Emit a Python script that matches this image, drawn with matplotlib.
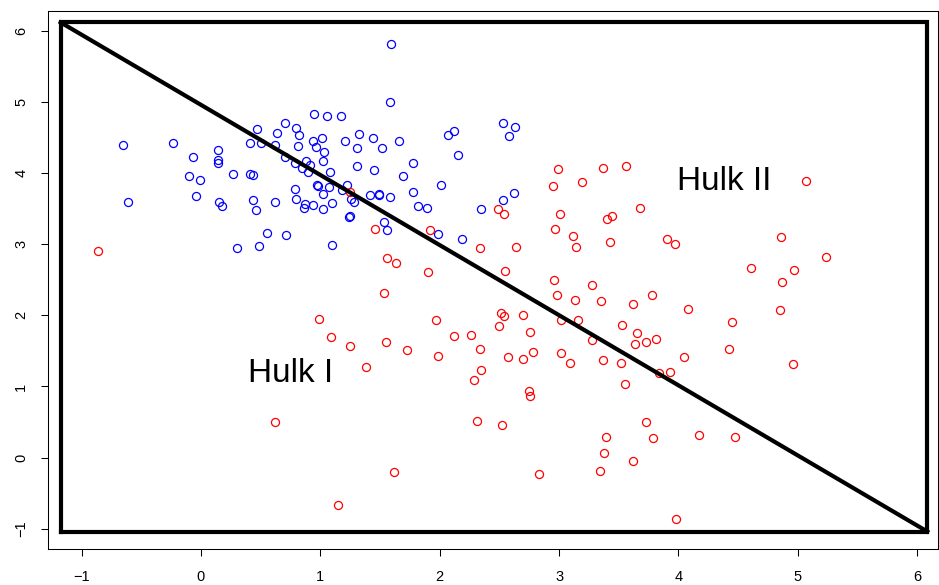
#import python modules
import matplotlib
matplotlib.use('Agg')
import matplotlib.pyplot as plt
import numpy as np

#Hulk I - blue points
blue_x = [-0.65, -0.23, -0.61, -0.07, -0.10, -0.01, -0.04, 0.14, 0.14, 0.14,
          0.15, 0.18, 0.27, 0.41, 0.44, 0.30, 0.49, 0.44, 0.46, 0.55,
          0.62, 0.71, 0.41, 0.47, 0.50, 0.62, 0.64, 0.70, 0.70, 0.80,
          0.82, 0.81, 0.95, 1.06, 1.17, 0.94, 1.01, 0.96, 1.03, 1.02,
          0.79, 0.85, 0.88, 0.91, 0.90, 1.08, 0.79, 0.80, 0.87, 0.86,
          0.94, 1.02, 1.10, 0.97, 0.98, 1.02, 1.07, 1.10, 1.21, 1.22,
          1.18, 1.26, 1.28, 1.25, 1.24, 1.32, 1.31, 1.31, 1.58, 1.59,
          1.44, 1.52, 1.66, 1.45, 1.78, 1.69, 1.42, 1.49, 1.49, 1.58,
          1.53, 1.56, 1.78, 1.82, 1.89, 1.99, 2.19, 2.01, 2.15, 2.07,
          2.12, 2.53, 2.63, 2.58, 2.62, 2.53, 2.35]
blue_y = [4.40, 4.43, 3.60, 4.23, 3.96, 3.90, 3.68, 4.33, 4.19, 4.15,
          3.59, 3.54, 3.99, 3.99, 3.98, 2.95, 2.98, 3.62, 3.48, 3.16,
          3.59, 3.13, 4.42, 4.62, 4.42, 4.39, 4.56, 4.70, 4.23, 4.63,
          4.54, 4.38, 4.83, 4.81, 4.81, 4.45, 4.50, 4.37, 4.30, 4.17,
          4.15, 4.07, 4.17, 4.12, 4.02, 4.01, 3.78, 3.64, 3.57, 3.51,
          3.55, 3.50, 3.58, 3.84, 3.82, 3.71, 3.80, 2.99, 4.45, 3.83,
          3.76, 3.63, 3.60, 3.40, 3.39, 4.55, 4.36, 4.10, 5.00, 5.81,
          4.49, 4.36, 4.45, 4.04, 4.15, 3.96, 3.70, 3.71, 3.69, 3.67,
          3.32, 3.20, 3.73, 3.54, 3.51, 3.15, 3.07, 3.83, 4.26, 4.54,
          4.60, 4.70, 4.65, 4.52, 3.72, 3.62, 3.50]

#Hulk II - red points
red_x = [-0.86, 1.25, 1.46, 1.56, 1.63, 1.92, 2.49, 2.54, 2.34, 2.64,
         0.99, 1.09, 1.25, 0.62, 1.15, 1.90, 2.55, 1.53, 2.96, 3.28,
         2.98, 3.13, 3.35, 3.62, 3.78, 1.97, 2.51, 2.54, 2.70, 2.50,
         2.76, 3.02, 3.16, 3.53, 3.65, 3.64, 3.73, 3.81, 3.28, 1.55,
         1.73, 2.12, 2.26, 2.34, 1.99, 1.38, 2.57, 2.70, 2.78, 3.02,
         3.09, 3.37, 3.52, 2.35, 2.29, 3.55, 2.75, 2.76, 2.31, 2.52,
         3.73, 3.39, 3.79, 3.38, 3.62, 1.62, 2.83, 3.34, 4.61, 4.97,
         4.87, 4.08, 4.85, 4.45, 4.42, 4.05, 3.84, 3.93, 4.96, 4.17,
         4.47, 3.98, 3.56, 5.07, 3.68, 3.90, 3.97, 4.86, 5.24, 2.99,
         3.37, 3.19, 2.95, 3.01, 3.40, 3.44, 2.97, 3.12, 3.14, 3.43]
red_y = [2.91, 3.73, 3.21, 2.81, 2.74, 3.20, 3.50, 3.43, 2.95, 2.96,
         1.95, 1.69, 1.57, 0.50, -0.67, 2.61, 2.62, 2.32, 2.50, 2.43,
         2.29, 2.21, 2.20, 2.16, 2.29, 1.93, 2.04, 1.99, 2.01, 1.85,
         1.76, 1.94, 1.93, 1.86, 1.75, 1.60, 1.62, 1.67, 1.66, 1.62,
         1.52, 1.71, 1.73, 1.53, 1.43, 1.27, 1.41, 1.38, 1.48, 1.47,
         1.33, 1.37, 1.33, 1.23, 1.09, 1.04, 0.94, 0.87, 0.52, 0.46,
         0.50, 0.29, 0.28, 0.07, -0.05, -0.20, -0.23, -0.19, 2.66, 2.64,
         2.47, 2.09, 2.07, 1.90, 1.53, 1.41, 1.19, 1.21, 1.31, 0.32,
         0.29, -0.86, 4.10, 3.89, 3.51, 3.08, 3.00, 3.10, 2.82, 4.06,
         4.07, 3.88, 3.82, 3.42, 3.36, 3.40, 3.22, 3.11, 2.96, 3.03]

#bounding rectangle and the dividing diagonal
rect_x = [-1.175, 6.085]
rect_y = [-1.04, 6.12]

ticks = [-1, 0, 1, 2, 3, 4, 5, 6]

plt.rcParams['font.family'] = ['Liberation Sans', 'DejaVu Sans']

fig = plt.figure(figsize=(9.39, 5.85), dpi=100)
ax = fig.add_axes([0.0514, 0.0621, 0.9480, 0.9191])

ax.plot(blue_x, blue_y, 'o', mfc='none', mec='#0000ff', ms=5.8, mew=0.9, ls='none')
ax.plot(red_x, red_y, 'o', mfc='none', mec='#ff0000', ms=5.8, mew=0.9, ls='none')

#thick box around the data plus the diagonal
ax.plot([rect_x[0], rect_x[1], rect_x[1], rect_x[0], rect_x[0]],
        [rect_y[0], rect_y[0], rect_y[1], rect_y[1], rect_y[0]],
        c='k', lw=3, solid_joinstyle='miter')
ax.plot([rect_x[0], rect_x[1]], [rect_y[1], rect_y[0]], c='k', lw=3)

ax.text(0.75, 1.18, 'Hulk I', fontsize=24, ha='center', va='center')
ax.text(4.38, 3.89, 'Hulk II', fontsize=24, ha='center', va='center')

ax.set_xlim(-1.279, 6.178)
ax.set_ylim(-1.281, 6.281)
ax.set_xticks(ticks)
ax.set_yticks(ticks)
ax.set_yticklabels([str(t).replace('-', '\u2212') for t in ticks], rotation=90, va='center')
ax.tick_params(axis='both', direction='out', length=5, width=0.75, labelsize=10.5)
ax.tick_params(axis='x', pad=10)
ax.tick_params(axis='y', pad=9.5)
[s.set_linewidth(0.75) for s in ax.spines.values()]

fig.savefig('out.png', dpi=100)
